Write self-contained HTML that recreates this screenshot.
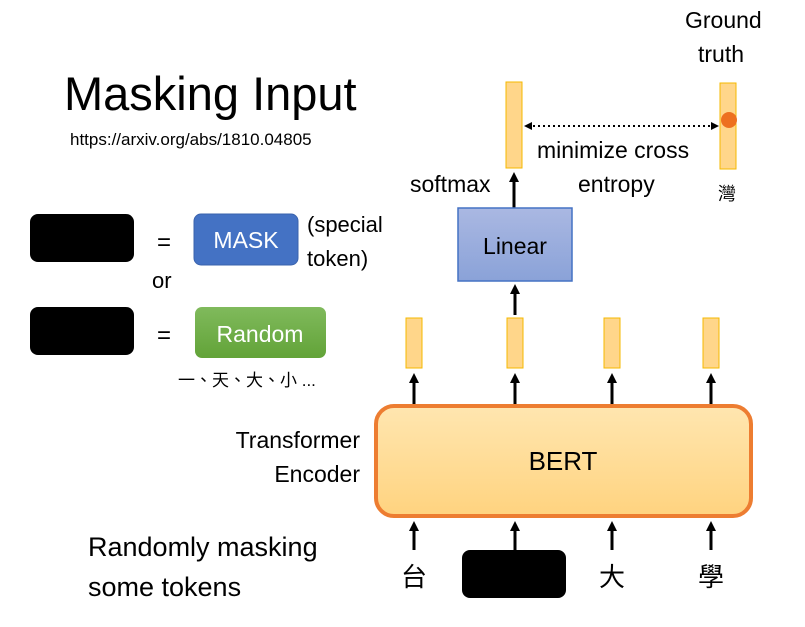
<!DOCTYPE html>
<html><head><meta charset="utf-8"><style>
html,body{margin:0;padding:0;background:#fff;}
svg{display:block;font-family:"Liberation Sans","Noto Sans CJK TC",sans-serif;}
</style></head><body>
<svg width="805" height="627" viewBox="0 0 805 627" xmlns="http://www.w3.org/2000/svg">
<defs>
<marker id="ah" markerWidth="10" markerHeight="10" refX="5" refY="5" orient="auto-start-reverse" markerUnits="userSpaceOnUse"><path d="M0,0 L10,5 L0,10 z" fill="#000"/></marker>
<marker id="ah2" markerWidth="8" markerHeight="8" refX="4" refY="4" orient="auto-start-reverse" markerUnits="userSpaceOnUse"><path d="M0,0 L8,4 L0,8 z" fill="#000"/></marker>
<linearGradient id="lin" x1="0" y1="0" x2="0" y2="1"><stop offset="0" stop-color="#aab8e2"/><stop offset="1" stop-color="#8aa2d8"/></linearGradient>
<linearGradient id="bert" x1="0" y1="0" x2="0" y2="1"><stop offset="0" stop-color="#ffe6b0"/><stop offset="1" stop-color="#ffd37f"/></linearGradient>
<linearGradient id="grn" x1="0" y1="0" x2="0" y2="1"><stop offset="0" stop-color="#80ba5c"/><stop offset="1" stop-color="#62a338"/></linearGradient>
</defs>
<text x="64" y="110" font-size="47" fill="#000">Masking Input</text>
<text x="70" y="145" font-size="17">https://arxiv.org/abs/1810.04805</text>
<rect x="30" y="214" width="104" height="48" rx="8" fill="#000"/>
<rect x="30" y="307" width="104" height="48" rx="8" fill="#000"/>
<text x="157" y="250" font-size="24">=</text>
<text x="157" y="343" font-size="24">=</text>
<rect x="194" y="214" width="104" height="51" rx="7" fill="#4472c4" stroke="#3a63ad"/>
<text x="246" y="248" font-size="23" fill="#fff" text-anchor="middle">MASK</text>
<rect x="195" y="307" width="131" height="51" rx="7" fill="url(#grn)"/>
<text x="260" y="342" font-size="23" fill="#fff" text-anchor="middle">Random</text>
<text x="307" y="232" font-size="22">(special</text>
<text x="307" y="266" font-size="22">token)</text>
<text x="152" y="288" font-size="22">or</text>
<text x="178" y="386" font-size="17">一、天、大、小 ...</text>
<rect x="506" y="82" width="16" height="86" fill="#ffd68a" stroke="#f5b800"/>
<rect x="720" y="83" width="16" height="86" fill="#ffd68a" stroke="#f5b800"/>
<circle cx="729" cy="120" r="8" fill="#ed7020"/>
<line x1="528" y1="126" x2="715" y2="126" stroke="#000" stroke-width="2" stroke-dasharray="2,3" marker-end="url(#ah2)" marker-start="url(#ah2)"/>
<text x="537" y="158" font-size="23">minimize cross</text>
<text x="578" y="192" font-size="23">entropy</text>
<text x="685" y="28" font-size="23">Ground</text>
<text x="698" y="62" font-size="23">truth</text>
<text x="718" y="200" font-size="18">灣</text>
<text x="410" y="192" font-size="23">softmax</text>
<line x1="514" y1="208" x2="514" y2="177" stroke="#000" stroke-width="3" marker-end="url(#ah)"/>
<rect x="458" y="208" width="114" height="73" fill="url(#lin)" stroke="#4472c4" stroke-width="1.5"/>
<text x="515" y="254" font-size="23" text-anchor="middle">Linear</text>
<line x1="515" y1="315" x2="515" y2="289" stroke="#000" stroke-width="3" marker-end="url(#ah)"/>
<g fill="#ffd68a" stroke="#f5b800">
<rect x="406" y="318" width="16" height="50"/>
<rect x="507" y="318" width="16" height="50"/>
<rect x="604" y="318" width="16" height="50"/>
<rect x="703" y="318" width="16" height="50"/>
</g>
<g stroke="#000" stroke-width="3">
<line x1="414" y1="405" x2="414" y2="378" marker-end="url(#ah)"/>
<line x1="515" y1="405" x2="515" y2="378" marker-end="url(#ah)"/>
<line x1="612" y1="405" x2="612" y2="378" marker-end="url(#ah)"/>
<line x1="711" y1="405" x2="711" y2="378" marker-end="url(#ah)"/>
<line x1="414" y1="550" x2="414" y2="526" marker-end="url(#ah)"/>
<line x1="515" y1="550" x2="515" y2="526" marker-end="url(#ah)"/>
<line x1="612" y1="550" x2="612" y2="526" marker-end="url(#ah)"/>
<line x1="711" y1="550" x2="711" y2="526" marker-end="url(#ah)"/>
</g>
<rect x="376" y="406" width="375" height="110" rx="18" fill="url(#bert)" stroke="#ed7d31" stroke-width="4"/>
<text x="563" y="470" font-size="26" text-anchor="middle">BERT</text>
<text x="360" y="448" font-size="23" text-anchor="end">Transformer</text>
<text x="360" y="482" font-size="23" text-anchor="end">Encoder</text>
<text x="88" y="556" font-size="27">Randomly masking</text>
<text x="88" y="596" font-size="27">some tokens</text>
<text x="414" y="586" font-size="26" text-anchor="middle">台</text>
<rect x="462" y="550" width="104" height="48" rx="8" fill="#000"/>
<text x="612" y="586" font-size="26" text-anchor="middle">大</text>
<text x="711" y="586" font-size="26" text-anchor="middle">學</text>
</svg>
</body></html>
